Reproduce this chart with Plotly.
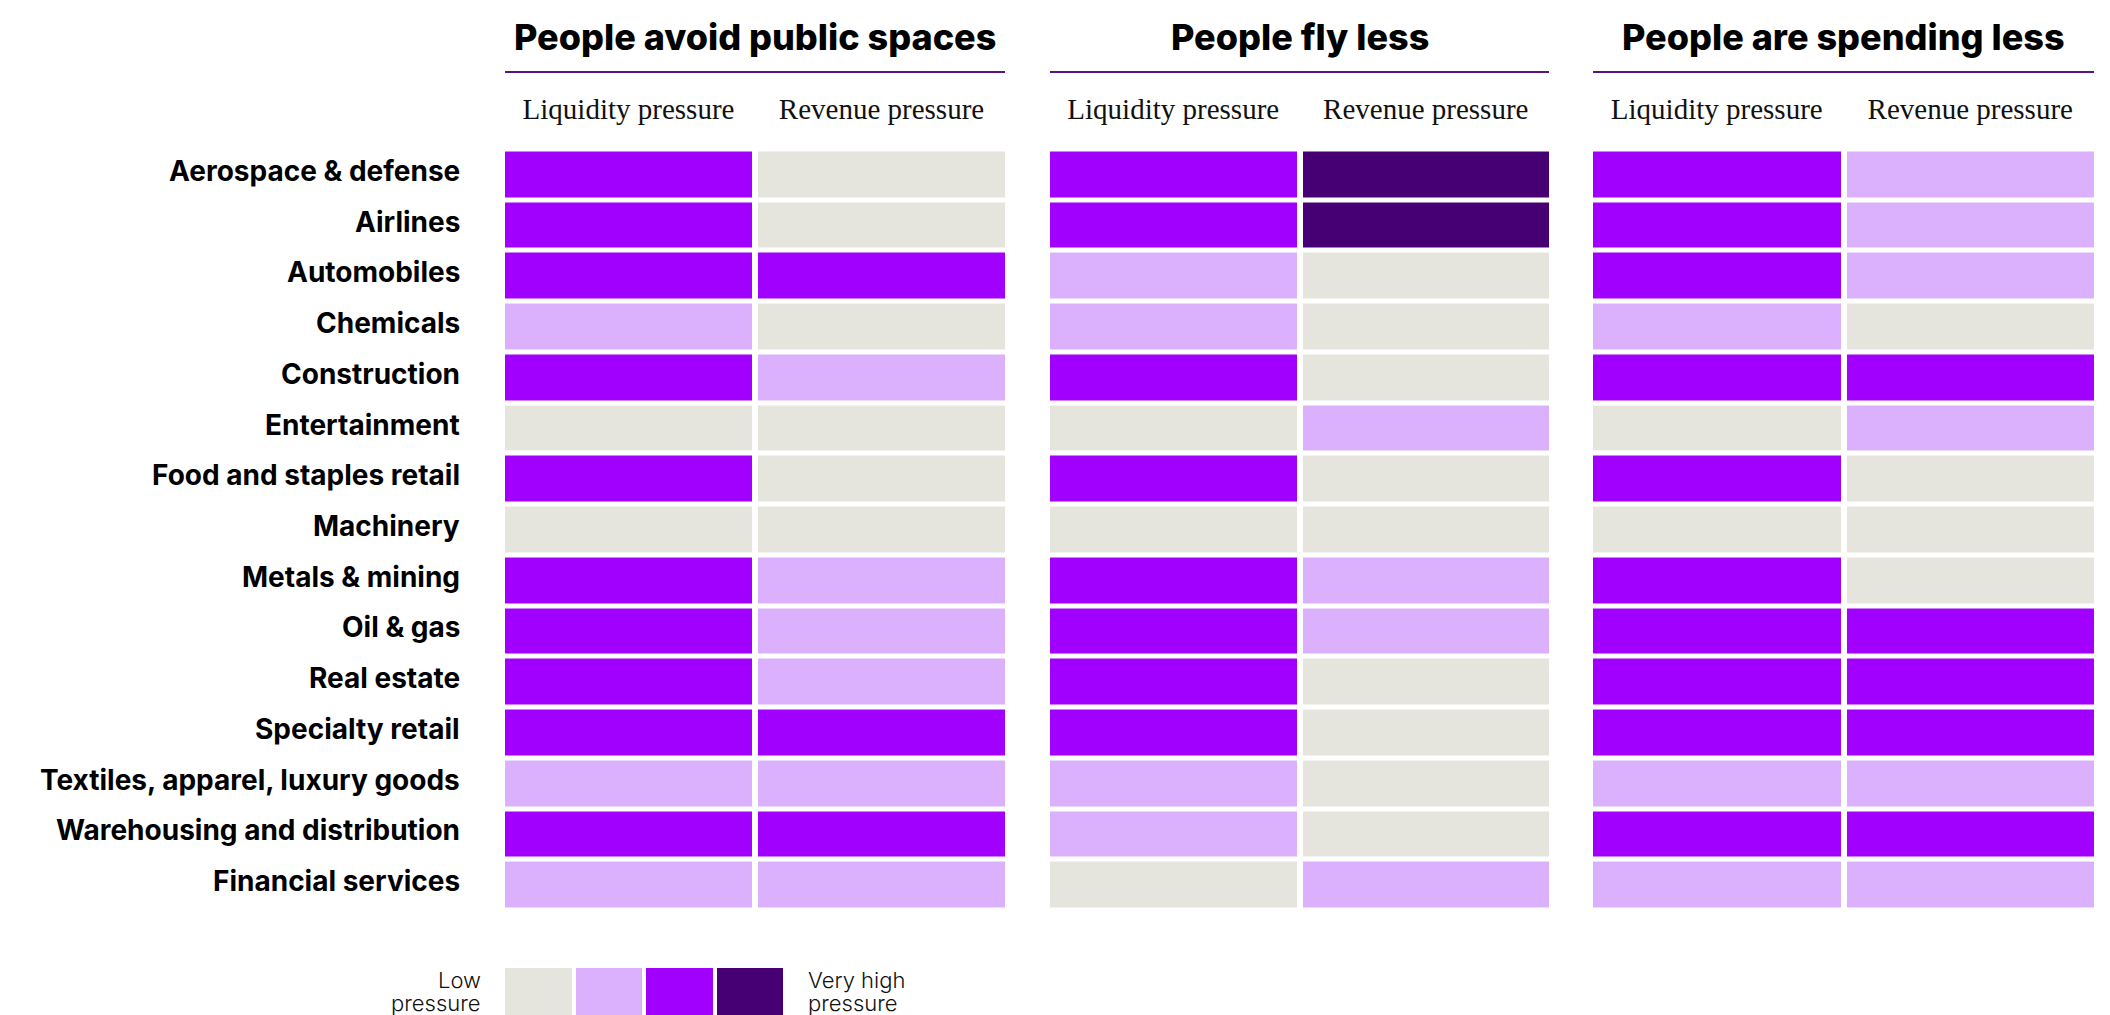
import plotly.graph_objects as go

# Industry rows, top to bottom
industries = [
    "Aerospace & defense",
    "Airlines",
    "Automobiles",
    "Chemicals",
    "Construction",
    "Entertainment",
    "Food and staples retail",
    "Machinery",
    "Metals & mining",
    "Oil & gas",
    "Real estate",
    "Specialty retail",
    "Textiles, apparel, luxury goods",
    "Warehousing and distribution",
    "Financial services",
]

pressure_columns = ["Liquidity pressure", "Revenue pressure"]

scenarios = ["People avoid public spaces", "People fly less", "People are spending less"]

# Pressure levels: 0 = low, 1 = moderate, 2 = high, 3 = very high
# Each pair is [liquidity, revenue]
avoid_public_spaces = [
    [2, 0], [2, 0], [2, 2], [1, 0], [2, 1], [0, 0], [2, 0], [0, 0],
    [2, 1], [2, 1], [2, 1], [2, 2], [1, 1], [2, 2], [1, 1],
]
fly_less = [
    [2, 3], [2, 3], [1, 0], [1, 0], [2, 0], [0, 1], [2, 0], [0, 0],
    [2, 1], [2, 1], [2, 0], [2, 0], [1, 0], [1, 0], [0, 1],
]
spending_less = [
    [2, 1], [2, 1], [2, 1], [1, 0], [2, 2], [0, 1], [2, 0], [0, 0],
    [2, 0], [2, 2], [2, 2], [2, 2], [1, 1], [2, 2], [1, 1],
]

legend_levels = [0, 1, 2, 3]
legend_low_lines = ["Low", "pressure"]
legend_high_lines = ["Very high", "pressure"]

level_colors = ["#e5e5dd", "#dbb0fd", "#a100ff", "#460073"]

W, H = 2110, 1015


def px_x(v):
    return v / W


def px_y(v):
    return 1 - v / H


# Discrete colour scale, one band per level
colorscale = []
for i, c in enumerate(level_colors):
    colorscale.append([i / len(level_colors), c])
    colorscale.append([(i + 1) / len(level_colors), c])

XGAP, YGAP = 6, 5
panel_px = [(502, 1008), (1047, 1552), (1590, 2097)]
grid_top, grid_bottom = 149.5, 910.5

fig = go.Figure()

panel_data = [avoid_public_spaces, fly_less, spending_less]
for i, z in enumerate(panel_data):
    xa = "x" if i == 0 else f"x{i + 1}"
    fig.add_trace(go.Heatmap(
        z=z,
        x=pressure_columns,
        y=industries,
        xaxis=xa,
        yaxis="y",
        colorscale=colorscale,
        zmin=-0.5,
        zmax=3.5,
        xgap=XGAP,
        ygap=YGAP,
        showscale=False,
        hoverinfo="skip",
    ))

# Legend strip
fig.add_trace(go.Heatmap(
    z=[legend_levels],
    x=[str(v) for v in legend_levels],
    y=["legend"],
    xaxis="x4",
    yaxis="y2",
    colorscale=colorscale,
    zmin=-0.5,
    zmax=3.5,
    xgap=4,
    ygap=0,
    showscale=False,
    hoverinfo="skip",
))

header_font = dict(family="Liberation Serif, Times New Roman, serif", size=29, color="#111111")

layout = dict(
    width=W,
    height=H,
    margin=dict(l=0, r=0, t=0, b=0),
    paper_bgcolor="white",
    plot_bgcolor="white",
    showlegend=False,
    yaxis=dict(
        domain=[px_y(grid_bottom), px_y(grid_top)],
        type="category",
        autorange="reversed",
        showgrid=False,
        zeroline=False,
        showline=False,
        ticks="",
        showticklabels=False,
        anchor="x",
    ),
    yaxis2=dict(
        domain=[0, px_y(968)],
        showticklabels=False,
        showgrid=False,
        zeroline=False,
        anchor="x4",
    ),
    xaxis4=dict(
        domain=[px_x(503), px_x(785)],
        showticklabels=False,
        showgrid=False,
        zeroline=False,
        anchor="y2",
        type="category",
    ),
)

for i, (x0, x1) in enumerate(panel_px):
    key = "xaxis" if i == 0 else f"xaxis{i + 1}"
    layout[key] = dict(
        domain=[px_x(x0), px_x(x1)],
        type="category",
        side="top",
        anchor="y",
        showgrid=False,
        zeroline=False,
        showline=False,
        ticks="",
        ticklabelstandoff=24,
        tickfont=header_font,
    )

fig.update_layout(**layout)

annotations = []
shapes = []

# Industry names, right-aligned beside the first panel
row_font = dict(family="Inter, Roboto, sans-serif", size=28, color="#000000", weight=700)
for name in industries:
    annotations.append(dict(
        text=name,
        xref="paper",
        yref="y",
        x=px_x(462),
        y=name,
        xanchor="right",
        yanchor="middle",
        yshift=4,
        showarrow=False,
        font=row_font,
    ))

for i, (x0, x1) in enumerate(panel_px):
    annotations.append(dict(
        text=scenarios[i],
        xref="paper",
        yref="paper",
        x=px_x((x0 + x1) / 2),
        y=px_y(37),
        xanchor="center",
        yanchor="middle",
        showarrow=False,
        font=dict(family="Inter, Roboto, sans-serif", size=36, color="#000000", weight=800),
    ))
    shapes.append(dict(
        type="line",
        xref="paper",
        yref="paper",
        x0=px_x(x0 + XGAP / 2),
        x1=px_x(x1 - XGAP / 2),
        y0=px_y(72),
        y1=px_y(72),
        line=dict(color="#5a1289", width=2),
    ))

legend_font = dict(family="Inter, Roboto, sans-serif", size=22, color="#111111", weight=300)
line_y = [980, 1003]
for text, yy in zip(legend_low_lines, line_y):
    annotations.append(dict(
        text=text, xref="paper", yref="paper",
        x=px_x(483), y=px_y(yy), xanchor="right", yanchor="middle",
        showarrow=False, font=legend_font,
    ))
for text, yy in zip(legend_high_lines, line_y):
    annotations.append(dict(
        text=text, xref="paper", yref="paper",
        x=px_x(806), y=px_y(yy), xanchor="left", yanchor="middle",
        showarrow=False, font=legend_font,
    ))

fig.update_layout(annotations=annotations, shapes=shapes)

fig.write_html("out.html")
